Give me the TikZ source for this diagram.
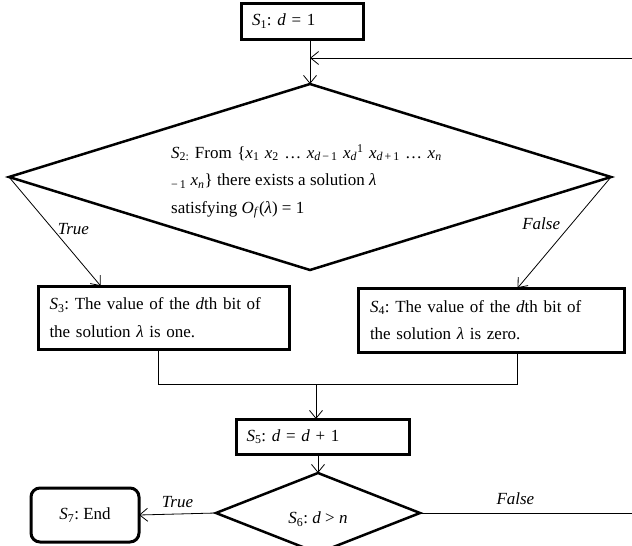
\documentclass[tikz,border=0pt]{standalone}
\usepackage{fontspec}
\setmainfont{Liberation Serif}
\usetikzlibrary{shapes.geometric,arrows.meta,calc}
\tikzset{
  boxnode/.style={draw,line width=3pt,rectangle,inner sep=0pt,outer sep=0pt},
  decnode/.style={draw,line width=2.5pt,diamond,inner sep=0pt,outer sep=0pt},
  conn/.style={line width=0.8pt,-{Straight Barb[length=8pt,width=13pt,line width=0.8pt]}},
  plain/.style={line width=0.8pt},
  lbl/.style={font=\fontsize{17}{20}\selectfont\itshape}
}
\newcommand{\vx}[1]{\textit{#1}}
\frenchspacing
\begin{document}
\begin{tikzpicture}[x=1pt,y=-1pt,font=\fontsize{17}{27.5}\selectfont]
\useasboundingbox (0,0) rectangle (632,546);
% S1
\node[boxnode,minimum width=122pt,minimum height=36pt,text width=100pt,align=left] (s1) at (302,21) {\vx{S}\textsubscript{1}: \vx{d} = 1};
% big diamond
\node[decnode,minimum width=602pt,minimum height=186pt] (d2) at (310,177) {};
\node[anchor=north west,align=left,inner sep=0pt] (t2) at (171,144) {\spaceskip=5.5pt plus 1pt\vx{S}\textsubscript{2:} From \{\vx{x}\textsubscript{1} \vx{x}\textsubscript{2} … \vx{x}\textsubscript{\vx{d}\,−\,1} \vx{x}\textsubscript{\vx{d}}\textsuperscript{1} \vx{x}\textsubscript{\vx{d}\,+\,1} … \vx{x}\textsubscript{\vx{n}}\\
\textsubscript{−\,1} \vx{x}\textsubscript{\vx{n}}\} there exists a solution \vx{λ}\\
satisfying \vx{O}\textsubscript{\vx{f}}(\vx{λ}) = 1};
% S3, S4
\node[boxnode,minimum width=251pt,minimum height=63pt,text width=228pt,align=left] (s3) at (163.5,317.5) {\vx{S}\textsubscript{3}: The value of the \vx{d}th bit of\\ the solution \vx{λ} is one.};
\node[boxnode,minimum width=266pt,minimum height=64pt,text width=242pt,align=left] (s4) at (491,320) {\vx{S}\textsubscript{4}: The value of the \vx{d}th bit of\\ the solution \vx{λ} is zero.};
% S5
\node[boxnode,minimum width=173pt,minimum height=35pt,text width=152pt,align=left] (s5) at (322.5,436.5) {\vx{S}\textsubscript{5}: \vx{d} = \vx{d} + 1};
% S6
\node[decnode,minimum width=204pt,minimum height=80pt] (d6) at (318,513) {};
\node[inner sep=0pt] (t6) at (318,519) {\vx{S}\textsubscript{6}: \vx{d} > \vx{n}};
% S7
\node[draw,line width=3pt,rectangle,rounded corners=9pt,minimum width=108pt,minimum height=54pt,inner sep=0pt,outer sep=0pt] (s7) at (85,515) {\vx{S}\textsubscript{7}: End};
% coordinates
\coordinate (fb) at (632,58);
\coordinate (fe) at (632,513);
\coordinate (mg) at (316,384);
% connectors
\draw[conn] (s1.south -| d2.north) -- (d2.north);
\draw[conn] (fb) -- (fb -| d2.north);
\draw[conn] (d2.west) -- ($(s3.north west)!0.25!(s3.north east)$) node[lbl,pos=0.48,right,xshift=1pt] (ltrue) {True};
\draw[conn] (d2.east) -- ($(s4.north west)!0.6!(s4.north east)$) node[lbl,pos=0.42,left,xshift=-8pt] (lfalse) {False};
\draw[plain] ($(s3.south west)!0.48!(s3.south east)$) |- (mg);
\draw[plain] ($(s4.south west)!0.6!(s4.south east)$) |- (mg);
\draw[conn] (mg) -- (mg |- s5.north);
\draw[conn] (s5.south -| d6.north) -- (d6.north);
\draw[conn] (d6.west) -- (s7.east) node[lbl,midway,above,yshift=3pt] (ltrue2) {True};
\draw[plain] (d6.east) -- (fe) node[lbl,pos=0.45,above,yshift=5pt] (lfalse2) {False};
\end{tikzpicture}
\end{document}
